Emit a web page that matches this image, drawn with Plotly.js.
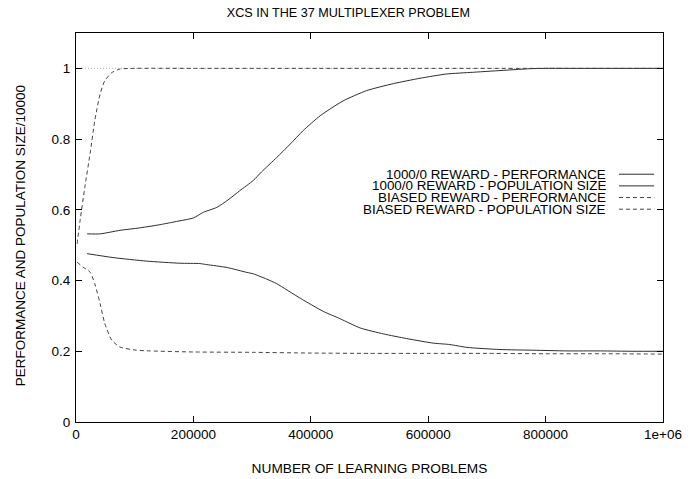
<!DOCTYPE html>
<html>
<head>
<meta charset="utf-8">
<script src="https://cdn.plot.ly/plotly-3.0.1.min.js"></script>
<style>html,body{margin:0;padding:0;background:#fff;}#chart{width:696px;height:479px;}</style>
</head>
<body>
<div id="chart"></div>
<script>
// 1000/0 reward - performance
var perfX = [19000, 41000, 75000, 109000, 143000, 171000, 200000, 217000, 240000, 259000, 279000, 302000, 316000, 342000, 365000, 387000, 416000, 455000, 495000, 541000, 586000, 631000, 677000, 734000, 773000, 800000, 850000, 900000, 950000, 1000000];
var perfY = [0.532, 0.532, 0.542, 0.549, 0.558, 0.567, 0.577, 0.593, 0.607, 0.628, 0.654, 0.683, 0.707, 0.748, 0.786, 0.824, 0.866, 0.908, 0.937, 0.957, 0.972, 0.984, 0.989, 0.995, 0.999, 1.0, 1.0, 1.0, 1.0, 1.0];
// 1000/0 reward - population size
var popX = [19000, 63000, 120000, 177000, 211000, 223000, 257000, 291000, 302000, 325000, 342000, 382000, 421000, 450000, 484000, 524000, 563000, 609000, 637000, 666000, 722000, 779000, 836000, 893000, 949000, 1000000];
var popY = [0.476, 0.465, 0.455, 0.449, 0.448, 0.445, 0.437, 0.423, 0.419, 0.404, 0.391, 0.350, 0.313, 0.292, 0.266, 0.249, 0.236, 0.223, 0.219, 0.211, 0.205, 0.203, 0.201, 0.201, 0.2, 0.2];
// biased reward - performance
var bPerfX = [2000, 7000, 15000, 24000, 32000, 41000, 49000, 61000, 75000, 100000, 200000, 400000, 600000, 800000, 1000000];
var bPerfY = [0.504, 0.57, 0.664, 0.759, 0.852, 0.927, 0.965, 0.988, 0.998, 1.0, 1.0, 1.0, 1.0, 1.0, 1.0];
// biased reward - population size
var bPopX = [2000, 12000, 24000, 32000, 41000, 49000, 61000, 75000, 103000, 126000, 200000, 300000, 400000, 500000, 600000, 700000, 800000, 900000, 1000000];
var bPopY = [0.452, 0.438, 0.424, 0.391, 0.335, 0.279, 0.231, 0.212, 0.203, 0.201, 0.198, 0.197, 0.195, 0.194, 0.194, 0.194, 0.193, 0.193, 0.192];
// reference line at 1
var refX = [0, 1000000];
var refY = [1, 1];

var seriesNames = ["1000/0 REWARD - PERFORMANCE", "1000/0 REWARD - POPULATION SIZE", "BIASED REWARD - PERFORMANCE", "BIASED REWARD - POPULATION SIZE"];
var xTickVals = [0, 200000, 400000, 600000, 800000, 1000000];
var xTickText = ["0", "200000", "400000", "600000", "800000", "1e+06"];
var yTickVals = [0, 0.2, 0.4, 0.6, 0.8, 1];
var yTickText = ["0", "0.2", "0.4", "0.6", "0.8", "1"];

var solid = {color: "#2e2e2e", width: 1};
var dashed = {color: "#444444", width: 1, dash: "4px,3px"};

var traces = [
  {x: refX, y: refY, mode: "lines", line: {color: "#b8b8b8", width: 1, dash: "1px,2px"}, hoverinfo: "skip"},
  {x: perfX, y: perfY, mode: "lines", line: Object.assign({}, solid), name: seriesNames[0]},
  {x: popX, y: popY, mode: "lines", line: Object.assign({}, solid), name: seriesNames[1]},
  {x: bPerfX, y: bPerfY, mode: "lines", line: Object.assign({}, dashed), name: seriesNames[2]},
  {x: bPopX, y: bPopY, mode: "lines", line: Object.assign({}, dashed), name: seriesNames[3]}
];
traces.forEach(function(t){ t.line.shape = "spline"; t.line.smoothing = 0.6; t.showlegend = false; });

var font = "'Liberation Sans', Arial, sans-serif";
var annotations = [];
var shapes = [];
var legendTop = 0.637, legendStep = 0.0300;
var styles = [solid, solid, dashed, dashed];
for (var i = 0; i < seriesNames.length; i++) {
  var yy = legendTop - i * legendStep;
  annotations.push({xref: "paper", yref: "paper", x: 0.906, y: yy, xanchor: "right", yanchor: "middle",
    height: 11, text: seriesNames[i], showarrow: false, font: {family: font, size: 13.4, color: "#000"}});
  shapes.push({type: "line", xref: "paper", yref: "paper", x0: 0.925, x1: 0.985, y0: yy, y1: yy,
    line: {color: styles[i].color, width: 1, dash: styles[i].dash || "solid"}});
}
// y-axis title as annotation for precise placement
annotations.push({xref: "paper", yref: "paper", x: -0.095, y: 0.478, xanchor: "center", yanchor: "middle",
  textangle: -90, text: "PERFORMANCE AND POPULATION SIZE/10000", showarrow: false, font: {family: font, size: 13.5, color: "#000"}});

var layout = {
  width: 696, height: 479,
  margin: {l: 76, r: 33, t: 33, b: 57, pad: 0},
  paper_bgcolor: "#fff", plot_bgcolor: "#fff",
  font: {family: font, size: 13.5, color: "#000"},
  title: {text: "XCS IN THE 37 MULTIPLEXER PROBLEM", xref: "paper", x: 0.464, xanchor: "center", y: 0.974, yanchor: "middle", font: {family: font, size: 12.6}},
  xaxis: {range: [0, 1000000], tickvals: xTickVals, ticktext: xTickText, ticks: "inside", ticklen: 6, tickcolor: "#000",
    showline: true, linecolor: "#000", linewidth: 1, mirror: "ticks", showgrid: false, zeroline: false,
    tickfont: {family: font, size: 13.5},
    title: {text: "NUMBER OF LEARNING PROBLEMS", font: {family: font, size: 13.7}}, automargin: false},
  yaxis: {range: [0, 1.1], tickvals: yTickVals, ticktext: yTickText, ticks: "inside", ticklen: 6, tickcolor: "#000",
    showline: true, linecolor: "#000", linewidth: 1, mirror: "ticks", showgrid: false, zeroline: false,
    ticklabelstandoff: 2,
    tickfont: {family: font, size: 13.5}, automargin: false},
  annotations: annotations,
  shapes: shapes,
  showlegend: false
};

Plotly.newPlot("chart", traces, layout, {displayModeBar: false, staticPlot: true});
</script>
</body>
</html>
